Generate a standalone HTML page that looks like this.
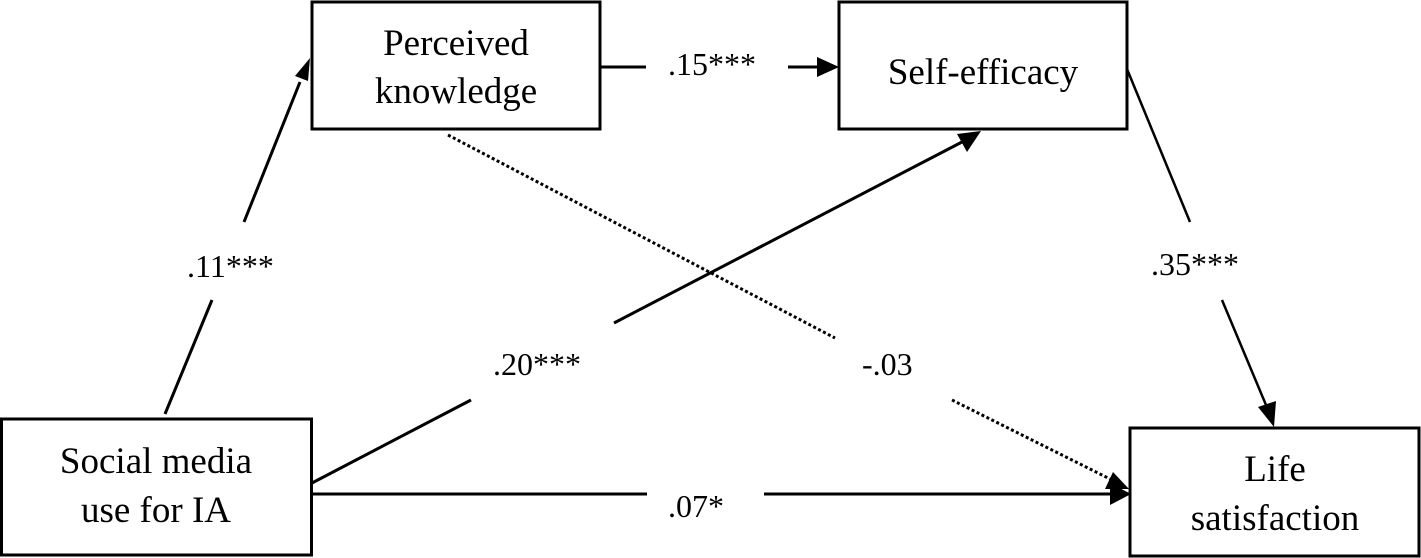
<!DOCTYPE html>
<html><head><meta charset="utf-8"><style>
html,body{margin:0;padding:0;background:#fff;}
svg{display:block;}
text{font-family:"Liberation Serif",serif;fill:#000;}
</style></head><body>
<svg width="1421" height="558" viewBox="0 0 1421 558" xmlns="http://www.w3.org/2000/svg">
<defs>
<marker id="ah" markerWidth="10" markerHeight="10" refX="9" refY="5" orient="auto" markerUnits="userSpaceOnUse" viewBox="0 0 10 10">
</marker>
</defs>
<g fill="none" stroke="#000" stroke-width="3">
<rect x="312" y="2" width="288" height="127"/>
<rect x="839" y="2" width="288" height="127"/>
<rect x="1.5" y="419" width="310" height="136"/>
<rect x="1130" y="428" width="289" height="128"/>
<!-- .11 -->
<line x1="165" y1="414" x2="212" y2="300"/>
<line x1="244" y1="222" x2="300" y2="82"/>
<!-- .15 -->
<line x1="600" y1="67" x2="646" y2="67"/>
<line x1="788" y1="67" x2="818" y2="67"/>
<!-- self -> life -->
<line x1="1127" y1="69" x2="1190" y2="222" stroke-width="2.5"/>
<line x1="1222" y1="300" x2="1266" y2="405" stroke-width="2.5"/>
<!-- .20 -->
<line x1="312" y1="483" x2="471" y2="400"/>
<line x1="614" y1="323" x2="962" y2="142"/>
<!-- .07 -->
<line x1="312" y1="494" x2="647" y2="494"/>
<line x1="764" y1="494" x2="1112" y2="494"/>
<!-- dotted -->
<line x1="448" y1="135" x2="835" y2="338" stroke-width="3" stroke-dasharray="3,2.5"/>
<line x1="952" y1="400" x2="1112" y2="480" stroke-width="3" stroke-dasharray="3,2.5"/>
</g>
<g fill="#000">
<polygon points="310,58 295,76 308,81"/>
<polygon points="839,67 817,57 817,77"/>
<polygon points="1274,427 1258,407 1276,401"/>
<polygon points="981,131 957,134 967,152"/>
<polygon points="1131,494 1110,483 1110,505"/>
<polygon points="1129,489 1113,472 1105,489"/>
</g>
<g font-size="37" text-anchor="middle">
<text x="456" y="55">Perceived</text>
<text x="456" y="103">knowledge</text>
<text x="983" y="84">Self-efficacy</text>
<text x="156" y="473">Social media</text>
<text x="156" y="522">use for IA</text>
<text x="1275" y="481">Life</text>
<text x="1275" y="530">satisfaction</text>
</g>
<g font-size="32">
<text x="187" y="277">.11***</text>
<text x="668" y="75">.15***</text>
<text x="493" y="375">.20***</text>
<text x="862" y="375">-.03</text>
<text x="1151" y="275">.35***</text>
<text x="668" y="517">.07*</text>
</g>
</svg>
</body></html>
